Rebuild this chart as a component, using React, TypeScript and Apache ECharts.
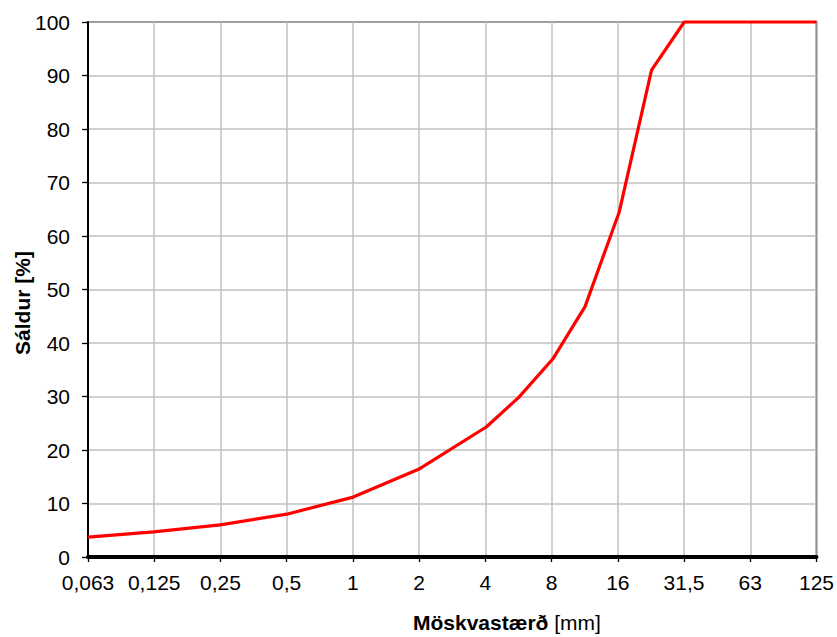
import React, { useEffect, useRef } from "react";
import * as echarts from "echarts";

// Sieve tick labels (evenly spaced on the axis)
const tickLabels = ["0,063", "0,125", "0,25", "0,5", "1", "2", "4", "8", "16", "31,5", "63", "125"];
// Sieve sizes in mm and percent passing
const sieveSizes = [0.063, 0.125, 0.25, 0.5, 1, 2, 4, 5.6, 8, 11.2, 16, 22.4, 31.5, 63, 125];
const passing = [3.7, 4.7, 6.0, 8.0, 11.2, 16.5, 24.3, 29.8, 37.0, 46.8, 64.5, 91.0, 100, 100, 100];

const FONT = "'Liberation Sans', Arial, sans-serif";
const FS = 21;

const minSize = sieveSizes[0];
const maxSize = sieveSizes[sieveSizes.length - 1];
const span = tickLabels.length - 1;
const toPos = (s: number) => (Math.log2(s / minSize) / Math.log2(maxSize / minSize)) * span;

export default function App() {
  const ref = useRef<HTMLDivElement>(null);
  useEffect(() => {
    document.body.style.margin = "0";
    if (!ref.current) return;
    const chart = echarts.init(ref.current, undefined, { renderer: "svg" });
    chart.setOption({
      animation: false,
      backgroundColor: "#fff",
      grid: {
        left: 88,
        right: 19,
        top: 22,
        bottom: 80,
        show: true,
        borderColor: "#000",
        borderWidth: 1.5,
      },
      xAxis: {
        type: "value",
        min: 0,
        max: span,
        interval: 1,
        axisLine: { show: true, onZero: false, lineStyle: { color: "#000", width: 4 } },
        axisTick: { show: true, length: 5, lineStyle: { color: "#000", width: 1.3 } },
        axisLabel: {
          formatter: (v: number) => tickLabels[Math.round(v)] ?? "",
          fontSize: FS,
          color: "#000",
          margin: 15,
          fontFamily: FONT,
          showMinLabel: true,
          showMaxLabel: true,
        },
        splitLine: { show: true, lineStyle: { color: "#c0c0c0", width: 1.5 } },
      },
      yAxis: {
        type: "value",
        min: 0,
        max: 100,
        interval: 10,
        axisLine: { show: true, lineStyle: { color: "#000", width: 2 } },
        axisTick: { show: true, length: 6, lineStyle: { color: "#000", width: 1.3 } },
        axisLabel: { fontSize: FS, color: "#000", margin: 18, fontFamily: FONT },
        splitLine: { show: true, lineStyle: { color: "#c0c0c0", width: 1.5 } },
      },
      graphic: [
        {
          type: "text",
          x: 22,
          y: 303,
          rotation: Math.PI / 2,
          style: {
            text: "Sáldur [%]",
            textAlign: "center",
            textVerticalAlign: "middle",
            font: `bold ${FS}px ${FONT}`,
            fill: "#000",
          },
        },
        {
          type: "text",
          left: 413,
          top: 612,
          style: {
            text: "{b|Möskvastærð} {n|[mm]}",
            fill: "#000",
            rich: {
              b: { fontWeight: "bold", fontSize: FS, fontFamily: FONT, fill: "#000" },
              n: { fontWeight: "normal", fontSize: FS, fontFamily: FONT, fill: "#000" },
            },
            font: `bold ${FS}px ${FONT}`,
          },
        },
      ],
      series: [
        {
          type: "line",
          data: sieveSizes.map((s, i) => [toPos(s), passing[i]]),
          showSymbol: false,
          clip: false,
          lineStyle: { color: "#ff0000", width: 3.2 },
          z: 5,
        },
      ],
    });
    return () => chart.dispose();
  }, []);
  return <div ref={ref} style={{ width: 837, height: 637 }} />;
}
